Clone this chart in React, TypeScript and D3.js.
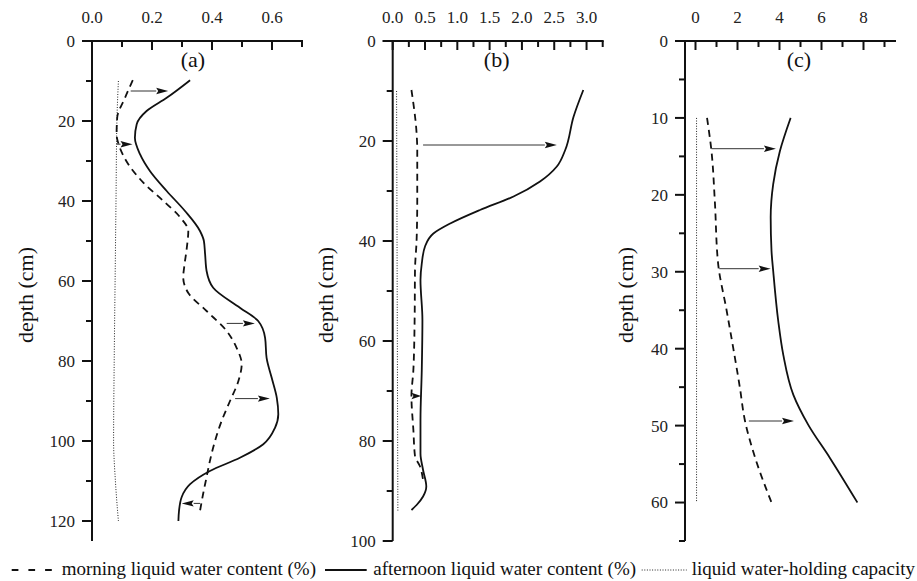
import React from "react";
import * as d3 from "d3";

// ---------- data (depth in cm, value) ----------
const aMorningDepth = [9.8, 14.2, 19.2, 23.3, 26.7, 30.8, 35.4, 40, 44, 47.5, 51.7, 56.7, 59, 63, 67.5, 72.5, 76.7, 80.8, 85, 90, 95, 100, 105, 109, 113, 117.5];
const aMorningValue = [0.136, 0.11, 0.084, 0.082, 0.093, 0.121, 0.171, 0.238, 0.293, 0.321, 0.316, 0.307, 0.304, 0.321, 0.382, 0.449, 0.482, 0.499, 0.488, 0.46, 0.432, 0.41, 0.393, 0.382, 0.371, 0.36];
const aAfternoonDepth = [9.8, 14.2, 17.5, 20.8, 24.2, 28.3, 32.5, 37.5, 42.5, 47.5, 50, 53.3, 57.5, 61.7, 66.7, 70, 74.2, 79.2, 84.2, 89.2, 93.3, 96.7, 100.8, 104.2, 107.5, 110.8, 114, 117.5, 120];
const aAfternoonValue = [0.327, 0.249, 0.182, 0.149, 0.143, 0.16, 0.193, 0.249, 0.31, 0.36, 0.373, 0.377, 0.382, 0.404, 0.493, 0.554, 0.577, 0.582, 0.599, 0.616, 0.621, 0.61, 0.571, 0.493, 0.393, 0.327, 0.299, 0.29, 0.288];
const aCapacityDepth = [10, 20, 40, 60, 80, 100, 110, 120];
const aCapacityValue = [0.088, 0.083, 0.08, 0.077, 0.074, 0.072, 0.078, 0.088];
const aArrowDepth = [12.5, 25.8, 70.6, 89.4, 115.6];
const aArrowFrom = [0.129, 0.082, 0.449, 0.477, 0.36];
const aArrowTo = [0.254, 0.135, 0.543, 0.593, 0.299];

const bMorningDepth = [9.8, 18.5, 21.7, 31.8, 39.8, 45.8, 55, 65.8, 71, 77.8, 83, 85, 87.8];
const bMorningValue = [0.29, 0.37, 0.38, 0.38, 0.37, 0.345, 0.34, 0.32, 0.29, 0.32, 0.345, 0.42, 0.47];
const bAfternoonDepth = [9.8, 15.1, 21.8, 25.1, 28.1, 31.1, 33.8, 36.5, 38.5, 41.1, 44.5, 47.8, 55.8, 65.8, 75.8, 82.5, 85.8, 89.1, 91.1, 92.8, 93.8];
const bAfternoonValue = [2.95, 2.8, 2.67, 2.54, 2.28, 1.87, 1.35, 0.89, 0.63, 0.5, 0.45, 0.43, 0.46, 0.45, 0.43, 0.43, 0.47, 0.52, 0.47, 0.37, 0.29];
const bCapacityDepth = [10, 94];
const bCapacityValue = [0.06, 0.08];
const bArrowDepth = [20.8, 71];
const bArrowFrom = [0.47, 0.29];
const bArrowTo = [2.54, 0.44];

const cMorningDepth = [10, 14.3, 20.8, 29, 35, 39.8, 45, 49.3, 54.1, 60];
const cMorningValue = [0.55, 0.76, 0.92, 1.08, 1.48, 1.79, 2.11, 2.35, 2.83, 3.62];
const cAfternoonDepth = [10, 14.3, 18.6, 22.9, 27.3, 29.9, 36.4, 40.8, 46, 49.9, 54.2, 60];
const cAfternoonValue = [4.53, 4.02, 3.7, 3.58, 3.62, 3.7, 3.94, 4.18, 4.66, 5.37, 6.4, 7.71];
const cCapacityDepth = [10, 60];
const cCapacityValue = [0.05, 0.05];
const cArrowDepth = [14, 29.6, 49.4];
const cArrowFrom = [0.76, 1.13, 2.54];
const cArrowTo = [3.83, 3.58, 4.69];

// axis ticks
const aXMinor = [0.1, 0.3, 0.5, 0.7];
const aXMajor = [0, 0.2, 0.4, 0.6];
const bXMinor = [0.25, 0.75, 1.25, 1.75, 2.25, 2.75, 3.25];
const bXMajor = [0, 0.5, 1.0, 1.5, 2.0, 2.5, 3.0];
const cXMinor = [1, 3, 5, 7, 9];
const cXMajor = [0, 2, 4, 6, 8];
const aYMajor = [0, 20, 40, 60, 80, 100, 120];
const aYMinor = [10, 30, 50, 70, 90, 110];
const bYMajor = [0, 20, 40, 60, 80, 100];
const bYMinor = [10, 30, 50, 70, 90];
const cYMajor = [0, 10, 20, 30, 40, 50, 60];
const cYMinor = [5, 15, 25, 35, 45, 55, 65];

const legendLabels = [
  "morning liquid water content (%)",
  "afternoon liquid water content (%)",
  "liquid water-holding capacity",
];
const yTitle = "depth (cm)";

const FONT = "'Liberation Serif', 'Times New Roman', serif";

const zip = (d: number[], v: number[]) => d.map((dd, i) => [dd, v[i]] as [number, number]);

type PanelCfg = {
  left: number; top: number; width: number; height: number;
  xDomain: [number, number]; yDomain: [number, number];
  xMajor: number[]; xMinor: number[]; xFmt: string;
  yMajor: number[]; yMinor: number[];
  morning: [number, number][]; afternoon: [number, number][]; capacity: [number, number][];
  arrows: { d: number; from: number; to: number }[];
  tag: string; tagX: number; titleX: number;
};

function Panel({ cfg }: { cfg: PanelCfg }) {
  const x = d3.scaleLinear().domain(cfg.xDomain).range([cfg.left, cfg.left + cfg.width]);
  const y = d3.scaleLinear().domain(cfg.yDomain).range([cfg.top, cfg.top + cfg.height]);
  const line = d3
    .line<[number, number]>()
    .x((d) => x(d[1]))
    .y((d) => y(d[0]))
    .curve(d3.curveMonotoneY);
  const fmt = d3.format(cfg.xFmt);
  const x0 = cfg.left;
  const y0 = cfg.top;
  return (
    <g>
      {/* curves */}
      <path d={line(cfg.capacity) || ""} fill="none" stroke="#222" strokeWidth={1} strokeDasharray="1,1.6" />
      <path d={line(cfg.morning) || ""} fill="none" stroke="#111" strokeWidth={1.8} strokeDasharray="7,5" />
      <path d={line(cfg.afternoon) || ""} fill="none" stroke="#111" strokeWidth={1.8} />
      {/* arrows */}
      {cfg.arrows.map((a, i) => {
        const xs = x(a.from);
        const xe = x(a.to);
        const yy = y(a.d);
        const dir = xe >= xs ? 1 : -1;
        const len = Math.abs(xe - xs);
        const head = Math.min(12, len);
        const xb = xe - dir * head;
        return (
          <g key={i}>
            <line x1={xs} y1={yy} x2={xb} y2={yy} stroke="#333" strokeWidth={1} />
            <path d={`M${xe},${yy}L${xb},${yy - 3.2}L${xb + dir * 2},${yy}L${xb},${yy + 3.2}Z`} fill="#111" />
          </g>
        );
      })}
      {/* top axis */}
      <line x1={x0 - 10} y1={y0} x2={cfg.left + cfg.width + 1} y2={y0} stroke="#111" strokeWidth={2} />
      {cfg.xMajor.map((t) => (
        <g key={"xM" + t}>
          <line x1={x(t)} y1={y0} x2={x(t)} y2={y0 + 9} stroke="#111" strokeWidth={2} />
          <text x={x(t)} y={23} textAnchor="middle" fontSize={17} fontFamily={FONT} fill="#222">
            {fmt(t)}
          </text>
        </g>
      ))}
      {cfg.xMinor.map((t) => (
        <line key={"xm" + t} x1={x(t)} y1={y0} x2={x(t)} y2={y0 + 6} stroke="#111" strokeWidth={2} />
      ))}
      {/* left axis */}
      <line x1={x0} y1={y0 - 1} x2={x0} y2={cfg.top + cfg.height} stroke="#111" strokeWidth={2} />
      {cfg.yMajor.map((t) => (
        <g key={"yM" + t}>
          <line x1={x0 - 10} y1={y(t)} x2={x0} y2={y(t)} stroke="#111" strokeWidth={2} />
          <text x={x0 - 17} y={y(t)} dy="0.35em" textAnchor="end" fontSize={17} fontFamily={FONT} fill="#222">
            {t}
          </text>
        </g>
      ))}
      {cfg.yMinor.map((t) => (
        <line key={"ym" + t} x1={x0 - 6} y1={y(t)} x2={x0} y2={y(t)} stroke="#111" strokeWidth={2} />
      ))}
      {/* tag */}
      <text x={cfg.tagX} y={67} textAnchor="middle" fontSize={22} fontFamily={FONT} fill="#111">
        {cfg.tag}
      </text>
      {/* y title */}
      <text
        transform={`translate(${cfg.titleX},295) rotate(-90)`}
        textAnchor="middle"
        fontSize={22}
        fontFamily={FONT}
        fill="#111"
      >
        {yTitle}
      </text>
    </g>
  );
}

const panels: PanelCfg[] = [
  {
    left: 92, top: 41, width: 210, height: 500,
    xDomain: [0, 0.7], yDomain: [0, 125],
    xMajor: aXMajor, xMinor: aXMinor, xFmt: ".1f",
    yMajor: aYMajor, yMinor: aYMinor,
    morning: zip(aMorningDepth, aMorningValue),
    afternoon: zip(aAfternoonDepth, aAfternoonValue),
    capacity: zip(aCapacityDepth, aCapacityValue),
    arrows: aArrowDepth.map((d, i) => ({ d, from: aArrowFrom[i], to: aArrowTo[i] })),
    tag: "(a)", tagX: 193, titleX: 33,
  },
  {
    left: 392.7, top: 41, width: 210, height: 500,
    xDomain: [0, 3.25], yDomain: [0, 100],
    xMajor: bXMajor, xMinor: bXMinor, xFmt: ".1f",
    yMajor: bYMajor, yMinor: bYMinor,
    morning: zip(bMorningDepth, bMorningValue),
    afternoon: zip(bAfternoonDepth, bAfternoonValue),
    capacity: zip(bCapacityDepth, bCapacityValue),
    arrows: bArrowDepth.map((d, i) => ({ d, from: bArrowFrom[i], to: bArrowTo[i] })),
    tag: "(b)", tagX: 496.7, titleX: 333,
  },
  {
    left: 685, top: 41, width: 210, height: 500,
    xDomain: [-0.5, 9.5], yDomain: [0, 65],
    xMajor: cXMajor, xMinor: cXMinor, xFmt: "d",
    yMajor: cYMajor, yMinor: cYMinor,
    morning: zip(cMorningDepth, cMorningValue),
    afternoon: zip(cAfternoonDepth, cAfternoonValue),
    capacity: zip(cCapacityDepth, cCapacityValue),
    arrows: cArrowDepth.map((d, i) => ({ d, from: cArrowFrom[i], to: cArrowTo[i] })),
    tag: "(c)", tagX: 799, titleX: 633,
  },
];

export default function App() {
  const ly = 570;
  return (
    <div style={{ position: "absolute", left: 0, top: 0 }}>
      <svg width={917} height={581} style={{ display: "block", background: "#fff" }}>
        {panels.map((p, i) => (
          <Panel key={i} cfg={p} />
        ))}
        {/* legend */}
        <line x1={11.7} y1={ly} x2={52} y2={ly} stroke="#111" strokeWidth={1.8} strokeDasharray="6.7,10" />
        <text x={61.7} y={ly + 5} fontSize={19} fontFamily={FONT} fill="#111">{legendLabels[0]}</text>
        <line x1={325} y1={ly} x2={366.7} y2={ly} stroke="#111" strokeWidth={1.8} />
        <text x={373.3} y={ly + 5} fontSize={19} fontFamily={FONT} fill="#111">{legendLabels[1]}</text>
        <line x1={641.7} y1={ly} x2={686.7} y2={ly} stroke="#222" strokeWidth={1} strokeDasharray="1,1.6" />
        <text x={691.7} y={ly + 5} fontSize={19} fontFamily={FONT} fill="#111">{legendLabels[2]}</text>
      </svg>
    </div>
  );
}
